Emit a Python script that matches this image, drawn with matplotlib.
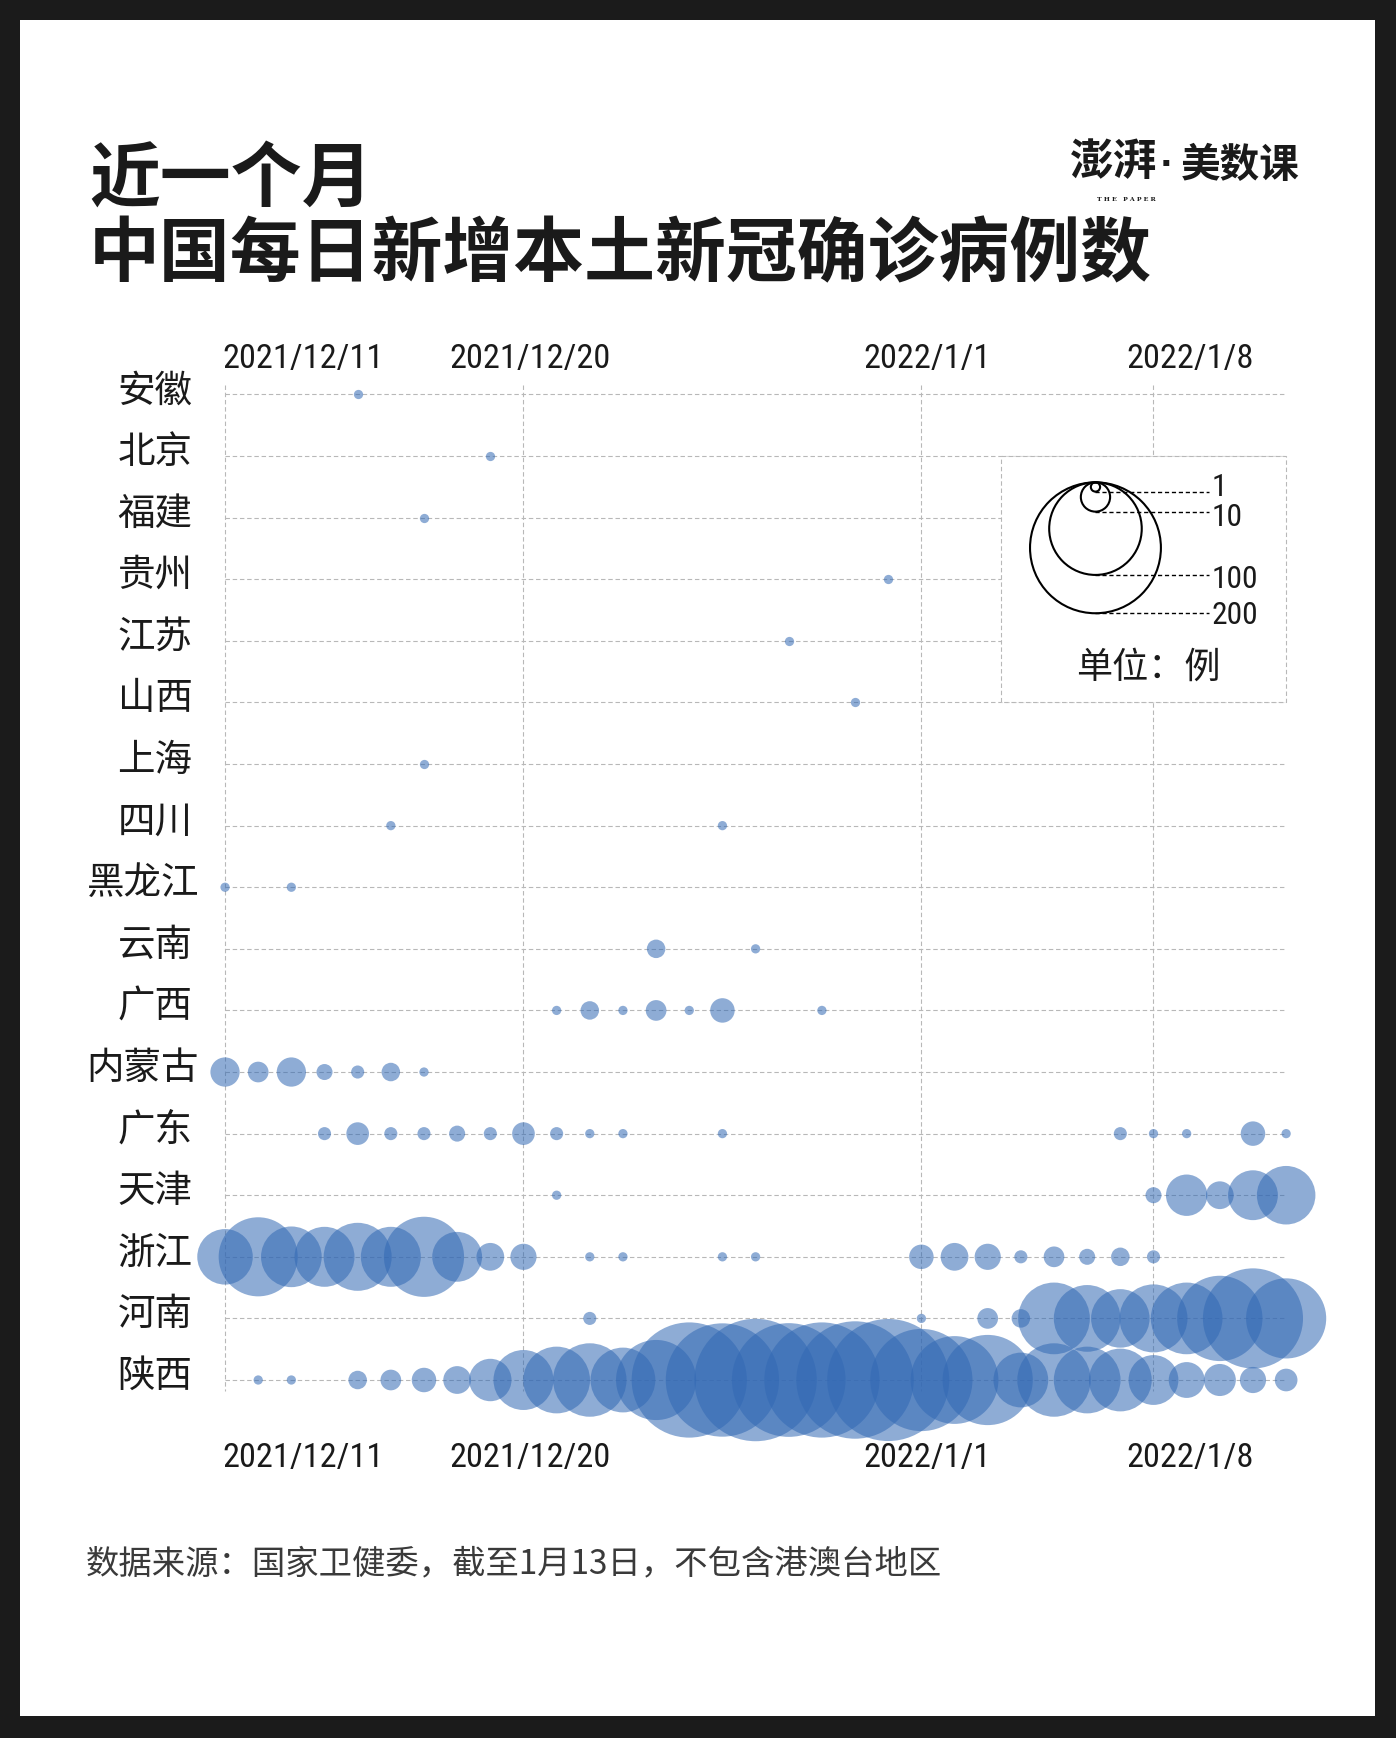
import numpy as np
import matplotlib
matplotlib.use('Agg')
import matplotlib.pyplot as plt
from matplotlib import font_manager as fm
from matplotlib.patches import Rectangle
from matplotlib.transforms import offset_copy

# ---- data: daily new local cases, 2021/12/11 (day 0) .. 2022/1/12 (day 32)
provinces = ['安徽', '北京', '福建', '贵州', '江苏', '山西', '上海', '四川', '黑龙江',
             '云南', '广西', '内蒙古', '广东', '天津', '浙江', '河南', '陕西']

anhui        = [0,0,0,0,1,0,0,0,0,0, 0,0,0,0,0,0,0,0,0,0, 0,0,0,0,0,0,0,0,0,0, 0,0,0]
beijing      = [0,0,0,0,0,0,0,0,1,0, 0,0,0,0,0,0,0,0,0,0, 0,0,0,0,0,0,0,0,0,0, 0,0,0]
fujian       = [0,0,0,0,0,0,1,0,0,0, 0,0,0,0,0,0,0,0,0,0, 0,0,0,0,0,0,0,0,0,0, 0,0,0]
guizhou      = [0,0,0,0,0,0,0,0,0,0, 0,0,0,0,0,0,0,0,0,0, 1,0,0,0,0,0,0,0,0,0, 0,0,0]
jiangsu      = [0,0,0,0,0,0,0,0,0,0, 0,0,0,0,0,0,0,1,0,0, 0,0,0,0,0,0,0,0,0,0, 0,0,0]
shanxi       = [0,0,0,0,0,0,0,0,0,0, 0,0,0,0,0,0,0,0,0,1, 0,0,0,0,0,0,0,0,0,0, 0,0,0]
shanghai     = [0,0,0,0,0,0,1,0,0,0, 0,0,0,0,0,0,0,0,0,0, 0,0,0,0,0,0,0,0,0,0, 0,0,0]
sichuan      = [0,0,0,0,0,1,0,0,0,0, 0,0,0,0,0,1,0,0,0,0, 0,0,0,0,0,0,0,0,0,0, 0,0,0]
heilongjiang = [1,0,1,0,0,0,0,0,0,0, 0,0,0,0,0,0,0,0,0,0, 0,0,0,0,0,0,0,0,0,0, 0,0,0]
yunnan       = [0,0,0,0,0,0,0,0,0,0, 0,0,0,4,0,0,1,0,0,0, 0,0,0,0,0,0,0,0,0,0, 0,0,0]
guangxi      = [0,0,0,0,0,0,0,0,0,0, 1,4,1,5,1,7,0,0,1,0, 0,0,0,0,0,0,0,0,0,0, 0,0,0]
neimenggu    = [10,5,10,3,2,4,1,0,0,0, 0,0,0,0,0,0,0,0,0,0, 0,0,0,0,0,0,0,0,0,0, 0,0,0]
guangdong    = [0,0,0,2,6,2,2,3,2,6, 2,1,1,0,0,1,0,0,0,0, 0,0,0,0,0,0,0,2,1,1, 0,7,1]
tianjin      = [0,0,0,0,0,0,0,0,0,0, 1,0,0,0,0,0,0,0,0,0, 0,0,0,0,0,0,0,0,3,20, 9,29,40]
zhejiang     = [36,73,43,42,54,42,75,29,9,8, 0,1,1,0,0,1,1,0,0,0, 0,7,9,8,2,5,3,4,2,0, 0,0,0]
henan        = [0,0,0,0,0,0,0,0,0,0, 0,2,0,0,0,0,0,0,0,0, 0,1,0,5,4,60,52,40,54,60, 85,117,75]
shaanxi      = [0,1,1,0,4,5,7,9,21,42, 52,63,49,75,155,150,175,151,155,161,
                174,122,90,95,35,63,52,46,29,15, 12,8,6]

rows = [anhui, beijing, fujian, guizhou, jiangsu, shanxi, shanghai, sichuan, heilongjiang,
        yunnan, guangxi, neimenggu, guangdong, tianjin, zhejiang, henan, shaanxi]

date_labels = ['2021/12/11', '2021/12/20', '2022/1/1', '2022/1/8']
date_days = [0, 9, 21, 28]
legend_vals = [1, 10, 100, 200]

# ---- style
CJK = 'Noto Sans CJK SC'
plt.rcParams['font.family'] = [CJK, 'DejaVu Sans']
names = {f.name for f in fm.fontManager.ttflist}
NUM = next((n for n in ['Roboto Condensed', 'Liberation Sans Narrow', 'DejaVu Sans'] if n in names),
           'DejaVu Sans')
BLUE = '#3269b4'
GRID = '#b8b8b8'
DASH = (0, (4, 2.5))
K = 44.4          # marker area (pt^2) per case
N = len(anhui)

fig = plt.figure(figsize=(13.96, 17.38), dpi=100)
fig.patch.set_facecolor('#1b1b1b')
fig.add_artist(Rectangle((0.0143, 0.0127), 0.9707, 0.9758, transform=fig.transFigure,
                         facecolor='white', edgecolor='none', zorder=-10))
renderer = fig.canvas.get_renderer()


def fit(text, family, target_px, base=20):
    t = fig.text(0, 0, text, fontsize=base, family=family)
    w = t.get_window_extent(renderer=renderer).width
    t.remove()
    return base * target_px / w


ax = fig.add_axes([0.1612, 0.1996, 0.7601, 0.5791])
ax.set_xlim(0, N - 1)
ax.set_ylim(16.18, -0.16)
ax.axis('off')

# grid
for i in range(len(provinces)):
    ax.plot([0, N - 1], [i, i], color=GRID, lw=0.8, ls=DASH, zorder=1, clip_on=False)
for d in date_days:
    ax.plot([d, d], [-0.16, 16.18], color=GRID, lw=0.8, ls=DASH, zorder=1, clip_on=False)

# bubbles
days = np.arange(N)
for i, vals in enumerate(rows):
    v = np.array(vals, dtype=float)
    m = v > 0
    ax.scatter(days[m], np.full(m.sum(), i), s=K * v[m], color=BLUE, alpha=0.55,
               linewidths=0, zorder=3, clip_on=False)

# province labels (two-character names end a little further left)
for i, name in enumerate(provinces):
    xr = -0.98 if len(name) == 2 else -0.78
    ax.text(xr, i - 0.06, name, ha='right', va='center', fontsize=27, color='#1a1a1a')

# date labels top & bottom
date_fs = fit('2021/12/11', NUM, 161)
for lab, x in zip(date_labels, [2.36, 9.2, 21.17, 29.1]):
    ax.text(x, -0.57, lab, ha='center', va='center', fontsize=date_fs, family=NUM, color='#1a1a1a')
    ax.text(x, 17.27, lab, ha='center', va='center', fontsize=date_fs, family=NUM, color='#1a1a1a')

# size legend
ax.add_patch(Rectangle((23.4, 1.0), N - 1 - 23.4, 4.0, facecolor='white', edgecolor=GRID,
                       lw=0.8, ls=DASH, zorder=2, clip_on=False))
leg_fs = fit('100', NUM, 46.7)
cx, top, xend = 26.25, 1.427, 29.67
label_shift = [2.8, -4.3, -3.0, -1.6]
for v, sh in zip(legend_vals, label_shift):
    r = np.sqrt(K * v) / 2
    ax.scatter([cx], [top], s=K * v, facecolors='none', edgecolors='black', linewidths=1.5,
               zorder=4, clip_on=False,
               transform=offset_copy(ax.transData, fig=fig, x=0, y=-r, units='points'))
    ax.plot([cx, xend], [top, top], color='black', lw=1.0, ls=(0, (3, 2)), zorder=4,
            clip_on=False,
            transform=offset_copy(ax.transData, fig=fig, x=0, y=-2 * r, units='points'))
    ax.text(xend + 0.08, top, str(v), ha='left', va='center', fontsize=leg_fs, family=NUM,
            color='#1a1a1a', zorder=5,
            transform=offset_copy(ax.transData, fig=fig, x=0, y=-2 * r + sh, units='points'))
ax.text(27.85, 4.43, '单位：例', ha='center', va='center', fontsize=26, color='#1a1a1a', zorder=5)

# title, logo, source
fig.text(0.0638, 0.8965, '近一个月', fontsize=51, fontweight='bold', va='center', color='#1a1a1a')
fig.text(0.0638, 0.8530, '中国每日新增本土新冠确诊病例数', fontsize=51, fontweight='bold',
         va='center', color='#1a1a1a')
fig.text(0.829, 0.907, '澎湃', fontsize=31.5, fontweight='bold', ha='right', va='center',
         color='#1a1a1a')
fig.text(0.8355, 0.905, '·', fontsize=24, fontweight='bold', family='DejaVu Sans',
         ha='center', va='center', color='#1a1a1a')
fig.text(0.9312, 0.905, '美数课', fontsize=28.5, fontweight='bold', ha='right', va='center',
         color='#1a1a1a')
fig.text(0.8066, 0.8852, 'T H E   P A P E R', fontsize=4.5, fontweight='bold', family='DejaVu Serif',
         ha='center', va='center', color='#1a1a1a')
fig.text(0.0616, 0.1002, '数据来源：国家卫健委，截至1月13日，不包含港澳台地区', fontsize=24,
         color='#3a3a3a', va='center')

fig.savefig('out.png', dpi=100, facecolor=fig.get_facecolor())
